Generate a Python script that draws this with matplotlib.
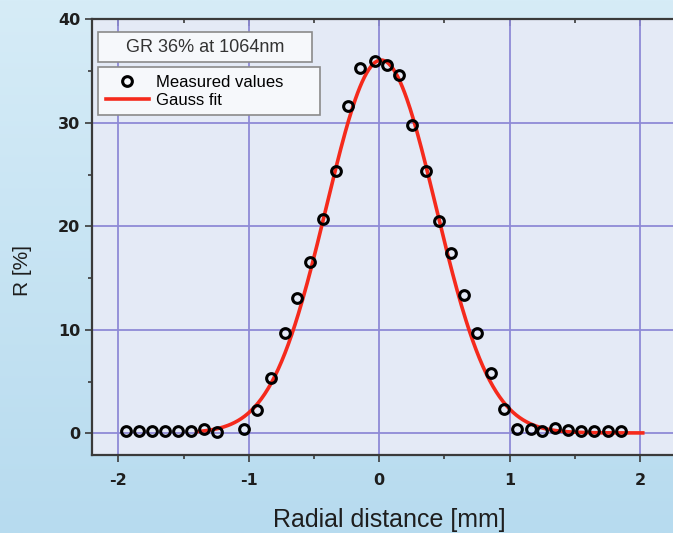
import matplotlib
matplotlib.use("Agg")
import matplotlib.pyplot as plt
import numpy as np
from matplotlib.patches import Rectangle

plt.rcParams["axes.unicode_minus"] = False

# measured reflectivity profile
x_meas = [-1.94, -1.84, -1.74, -1.64, -1.54, -1.44, -1.34, -1.24,
          -1.04, -0.94, -0.83, -0.72, -0.63, -0.53, -0.43, -0.33,
          -0.24, -0.15, -0.03, 0.06, 0.15, 0.25, 0.36, 0.46,
          0.55, 0.65, 0.75, 0.86, 0.96, 1.06, 1.16, 1.25,
          1.35, 1.45, 1.55, 1.65, 1.75, 1.85]
r_meas = [0.2, 0.2, 0.2, 0.2, 0.2, 0.2, 0.4, 0.1,
          0.4, 2.3, 5.4, 9.7, 13.1, 16.6, 20.7, 25.3,
          31.6, 35.3, 36.0, 35.6, 34.6, 29.8, 25.3, 20.5,
          17.4, 13.4, 9.7, 5.8, 2.4, 0.4, 0.4, 0.2,
          0.5, 0.3, 0.2, 0.2, 0.2, 0.2]

# gauss fit parameters
fit_amp = 36.0
fit_x0 = 0.015
fit_sigma = 0.42
fit_offset = 0.05
fit_range = (-1.40, 2.02)

xticks = [-2, -1, 0, 1, 2]
yticks = [0, 10, 20, 30, 40]

fig = plt.figure(figsize=(6.73, 5.33), dpi=100)
fig.patch.set_facecolor("#c9e4f3")

# soft gradient behind everything
bg = fig.add_axes([0, 0, 1, 1], zorder=-10)
grad = np.linspace(0, 1, 256).reshape(-1, 1)
bg.imshow(grad, aspect="auto", cmap=matplotlib.colors.LinearSegmentedColormap.from_list(
    "bgc", ["#d6ecf7", "#b7dbef"]), extent=[0, 1, 0, 1])
bg.axis("off")

ax = fig.add_axes([0.137, 0.146, 0.882, 0.818])
ax.set_facecolor("#e4eaf6")

xf = np.linspace(fit_range[0], fit_range[1], 400)
yf = fit_offset + fit_amp * np.exp(-(xf - fit_x0) ** 2 / (2 * fit_sigma ** 2))
ax.plot(xf, yf, color="#f52a1c", lw=2.6, label="Gauss fit", zorder=3)
ax.plot(x_meas, r_meas, "o", ms=7, mfc="none", mec="black", mew=2.2,
        label="Measured values", zorder=4)

ax.set_xlim(-2.2, 2.35)
ax.set_ylim(-2.1, 40)
ax.set_xticks(xticks)
ax.set_yticks(yticks)
ax.set_xticks([-1.5, -0.5, 0.5, 1.5], minor=True)
ax.set_yticks([5, 15, 25, 35], minor=True)
ax.grid(True, which="major", color="#8e8ad6", lw=1.3)
ax.set_axisbelow(True)

for s in ["left", "bottom", "top"]:
    ax.spines[s].set_color("#3a3a3a")
    ax.spines[s].set_linewidth(1.6)
ax.spines["right"].set_visible(False)
ax.tick_params(which="both", direction="out", color="#3a3a3a", width=1.2)
ax.tick_params(which="major", length=5)
ax.tick_params(which="minor", length=3)
ax.tick_params(axis="x", which="major", pad=8)

# top axis: inward ticks, no labels
top = ax.secondary_xaxis("top")
top.set_xticks(xticks)
top.set_xticks([-1.5, -0.5, 0.5, 1.5], minor=True)
top.tick_params(which="both", direction="in", color="#3a3a3a", width=1.2,
                labeltop=False)
top.tick_params(which="major", length=5)
top.tick_params(which="minor", length=3)
top.spines["top"].set_visible(False)

for lab in ax.get_xticklabels() + ax.get_yticklabels():
    lab.set_fontfamily("DejaVu Sans")
    lab.set_fontweight("bold")
    lab.set_fontsize(11.5)
    lab.set_color("#1e1e1e")

ax.set_xlabel("Radial distance [mm]", fontfamily="Liberation Sans", fontsize=18,
              color="#1e1e1e", labelpad=14)
ax.set_ylabel("R [%]", fontfamily="Liberation Sans", fontsize=15,
              color="#1e1e1e")
ax.yaxis.set_label_coords(-0.102, 0.424)

# title box
ax.add_patch(Rectangle((0.010, 0.901), 0.360, 0.069, transform=ax.transAxes,
                       fc="#f6f8fb", ec="#8a8a8a", lw=1.2, zorder=5))
ax.text(0.190, 0.935, "GR 36% at 1064nm", transform=ax.transAxes, fontsize=13,
        fontfamily="Liberation Sans", color="#333333", va="center", ha="center",
        zorder=6)

leg = ax.legend(handles=ax.get_lines()[::-1], loc="upper left",
                bbox_to_anchor=(0.010, 0.773, 0.374, 0.117), mode="expand",
                frameon=True, fancybox=False,
                edgecolor="#8a8a8a", facecolor="#f6f8fb", framealpha=1,
                prop={"family": "Liberation Sans", "size": 12},
                handlelength=2.6, handletextpad=0.4, borderpad=0.45,
                labelspacing=0.2, borderaxespad=0)
leg.get_frame().set_linewidth(1.2)
leg.set_zorder(6)

fig.savefig("out.png", dpi=100, facecolor=fig.get_facecolor())
